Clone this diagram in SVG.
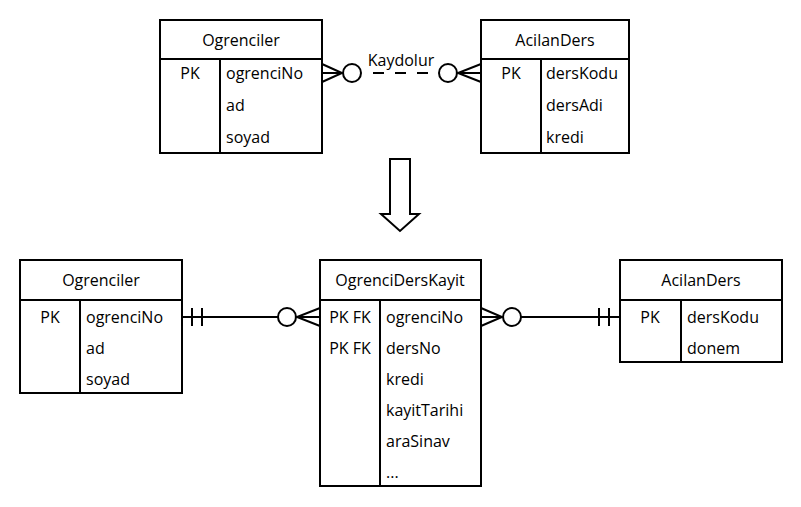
<svg xmlns="http://www.w3.org/2000/svg" width="801" height="507" viewBox="0 0 801 507">
<style>
.box{fill:#fff;stroke:#000;stroke-width:2}
.ln{fill:none;stroke:#000;stroke-width:2}
.t{font-family:"Open Sans","Noto Sans",sans-serif;font-size:16px;fill:#000}
.c{text-anchor:middle}
</style>
<rect width="801" height="507" fill="#fff"/>
<g id="connectors">
  <!-- top relation -->
  <path class="ln" d="M322,64 L342,73 L322,82 M322,73 L342,73"/>
  <circle class="ln" cx="352" cy="73" r="9" fill="#fff"/>
  <line class="ln" x1="373" y1="73" x2="428" y2="73" stroke-dasharray="11 11"/>
  <circle class="ln" cx="448" cy="73" r="9" fill="#fff"/>
  <path class="ln" d="M481,64 L458,73 L481,82 M481,73 L458,73"/>
  <text class="t c" x="401" y="66">Kaydolur</text>
  <!-- transform arrow -->
  <path class="ln" d="M390,159 L410,159 L410,214 L419,214 L400,231 L381,214 L390,214 Z" stroke-width="1.5"/>
  <!-- bottom left -->
  <line class="ln" x1="182" y1="317" x2="278" y2="317"/>
  <path class="ln" d="M192,308 L192,326 M202,308 L202,326"/>
  <circle class="ln" cx="287" cy="317" r="9" fill="#fff"/>
  <path class="ln" d="M320,308 L297,317 L320,326 M320,317 L297,317"/>
  <!-- bottom right -->
  <path class="ln" d="M481,308 L502,317 L481,326 M481,317 L502,317"/>
  <circle class="ln" cx="512" cy="317" r="9" fill="#fff"/>
  <line class="ln" x1="521" y1="317" x2="620" y2="317"/>
  <path class="ln" d="M599,308 L599,326 M609,308 L609,326"/>
</g>
<g id="top-ogrenciler">
  <rect class="box" x="160" y="20" width="162" height="133"/>
  <line class="ln" x1="160" y1="59" x2="322" y2="59"/>
  <line class="ln" x1="220" y1="59" x2="220" y2="153"/>
  <text class="t c" x="241" y="46">Ogrenciler</text>
  <text class="t c" x="190" y="79">PK</text>
  <text class="t" x="226" y="79">ogrenciNo</text>
  <text class="t" x="226" y="111">ad</text>
  <text class="t" x="226" y="143">soyad</text>
</g>
<g id="top-acilanders">
  <rect class="box" x="481" y="20" width="148" height="133"/>
  <line class="ln" x1="481" y1="59" x2="629" y2="59"/>
  <line class="ln" x1="541" y1="59" x2="541" y2="153"/>
  <text class="t c" x="555" y="46">AcilanDers</text>
  <text class="t c" x="511" y="79">PK</text>
  <text class="t" x="546" y="79">dersKodu</text>
  <text class="t" x="546" y="111">dersAdi</text>
  <text class="t" x="546" y="143">kredi</text>
</g>
<g id="bottom-ogrenciler">
  <rect class="box" x="20" y="260" width="162" height="133"/>
  <line class="ln" x1="20" y1="300" x2="182" y2="300"/>
  <line class="ln" x1="80" y1="300" x2="80" y2="393"/>
  <text class="t c" x="101" y="286">Ogrenciler</text>
  <text class="t c" x="50" y="323">PK</text>
  <text class="t" x="86" y="323">ogrenciNo</text>
  <text class="t" x="86" y="354">ad</text>
  <text class="t" x="86" y="385">soyad</text>
</g>
<g id="ogrencierskayit">
  <rect class="box" x="320" y="260" width="161" height="226"/>
  <line class="ln" x1="320" y1="300" x2="481" y2="300"/>
  <line class="ln" x1="380" y1="300" x2="380" y2="486"/>
  <text class="t c" x="400" y="286">OgrenciDersKayit</text>
  <text class="t c" x="350" y="323">PK FK</text>
  <text class="t c" x="350" y="354">PK FK</text>
  <text class="t" x="386" y="323">ogrenciNo</text>
  <text class="t" x="386" y="354">dersNo</text>
  <text class="t" x="386" y="385">kredi</text>
  <text class="t" x="386" y="416">kayitTarihi</text>
  <text class="t" x="386" y="447">araSinav</text>
  <text class="t" x="386" y="478">...</text>
</g>
<g id="bottom-acilanders">
  <rect class="box" x="620" y="260" width="162" height="102"/>
  <line class="ln" x1="620" y1="300" x2="782" y2="300"/>
  <line class="ln" x1="681" y1="300" x2="681" y2="362"/>
  <text class="t c" x="701" y="286">AcilanDers</text>
  <text class="t c" x="650" y="323">PK</text>
  <text class="t" x="687" y="323">dersKodu</text>
  <text class="t" x="687" y="354">donem</text>
</g>
</svg>
